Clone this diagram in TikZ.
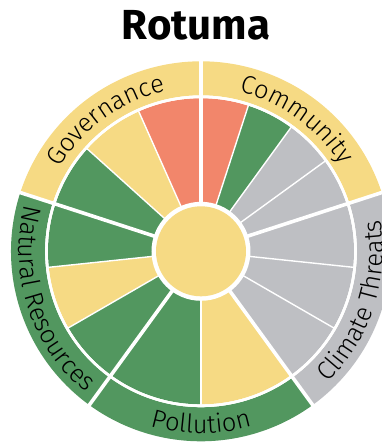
\documentclass[tikz,border=0pt]{standalone}
\usepackage{fontspec}
\setmainfont{Fira Sans}
\newfontfamily\leger{Fira Sans Light}
\usetikzlibrary{decorations.text}
\definecolor{jaune}{RGB}{246,218,132}
\definecolor{saumon}{RGB}{242,134,107}
\definecolor{vert}{RGB}{82,151,95}
\definecolor{gris}{RGB}{190,191,195}
\newcommand{\etiq}{\leger\fontsize{25.5}{30}\selectfont}
% quartier interieur : couleur, angle depart, angle arrivee
\newcommand{\quartier}[3]{\fill[#1] (0,0) -- (#2:153) arc[start angle=#2,end angle=#3,radius=153] -- cycle;}
% bande exterieure
\newcommand{\bande}[3]{\fill[#1] (#2:156) arc[start angle=#2,end angle=#3,radius=156] -- (#3:190) arc[start angle=#3,end angle=#2,radius=190] -- cycle;}
\tikzset{
  fin/.style={white,line width=1.4},
  epais/.style={white,line width=3.6},
  legende/.style={decorate,decoration={text along path,text align=center,text={|\etiq|#1}}}
}
\begin{document}
\begin{tikzpicture}[x=1pt,y=1pt]
  \useasboundingbox (-201,-190.7) rectangle (181,251.3);
  \node (titre) at (-5,211.3) [anchor=base] {\fontsize{42}{46}\selectfont\bfseries Rotuma};
  % bandes
  \bande{jaune}{18}{90}
  \bande{jaune}{90}{162}
  \bande{vert}{162}{234}
  \bande{vert}{234}{306}
  \bande{gris}{306}{378}
  % quartiers
  \quartier{saumon}{72}{90}
  \quartier{vert}{54}{72}
  \quartier{gris}{36}{54}
  \quartier{gris}{18}{36}
  \quartier{saumon}{90}{114}
  \quartier{jaune}{114}{138}
  \quartier{vert}{138}{162}
  \quartier{vert}{162}{186}
  \quartier{jaune}{186}{210}
  \quartier{vert}{210}{234}
  \quartier{vert}{234}{270}
  \quartier{jaune}{270}{306}
  \quartier{gris}{306}{330}
  \quartier{gris}{330}{354}
  \quartier{gris}{354}{378}
  % separations
  \draw[white,line width=2.6] (0,0) circle[radius=154.5];
  \foreach \a in {36,54,72,114,138,186,210,270,330,354}
    \draw[fin] (0,0) -- (\a:155);
  \foreach \a in {18,90,162,234,306}
    \draw[epais] (0,0) -- (\a:195);
  \fill[white] (0,0) circle[radius=49.5];
  \fill[jaune] (0,0) circle[radius=45];
  % textes
  \path[legende=Governance] (162:164) arc[start angle=162,end angle=90,radius=164];
  \path[legende=Community] (90:164) arc[start angle=90,end angle=18,radius=164];
  \path[legende=Natural Resources] (162:182) arc[start angle=162,end angle=234,radius=182];
  \path[legende=Pollution] (234:182) arc[start angle=234,end angle=306,radius=182];
  \path[legende=Climate Threats] (306:182) arc[start angle=306,end angle=378,radius=182];
\end{tikzpicture}
\end{document}
